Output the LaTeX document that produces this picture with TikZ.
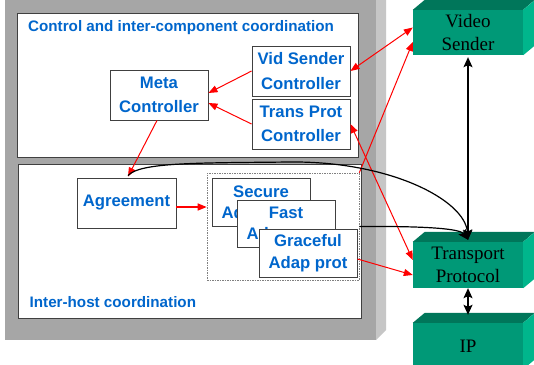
\documentclass[tikz,border=0pt]{standalone}
\usepackage{fontspec}
\setmainfont{Liberation Serif}
\newfontfamily\arialf{Liberation Sans}
\usetikzlibrary{arrows.meta,calc}
\definecolor{txtblue}{RGB}{0,102,204}
\definecolor{pgray}{RGB}{166,166,166}
\definecolor{plight}{RGB}{198,198,198}
\definecolor{gfront}{RGB}{0,153,119}
\definecolor{gtop}{RGB}{0,118,90}
\definecolor{gside}{RGB}{0,182,140}
\definecolor{bordc}{RGB}{64,64,64}
\begin{document}
\begin{tikzpicture}[x=1pt,y=-1pt,
  areabox/.style={draw=bordc, fill=white, line width=1pt},
  ctrlbox/.style={draw=bordc, fill=white, line width=0.9pt, minimum width=98pt, minimum height=50pt, inner sep=0pt, align=center, text=txtblue, font=\arialf\bfseries\fontsize{16.7}{24.5}\selectfont},
  adapbox/.style={ctrlbox, minimum height=48pt, font=\arialf\bfseries\fontsize{16.7}{21.5}\selectfont},
  arealbl/.style={anchor=base west, inner sep=0pt, text=txtblue, font=\arialf\bfseries\fontsize{15.2}{18}\selectfont},
  groupbox/.style={draw=gray, dash pattern=on 1.5pt off 1pt, line width=0.6pt, minimum width=152pt, minimum height=107pt, inner sep=0pt},
  gblock/.style={fill=gfront, minimum width=110pt, inner sep=0pt, align=center, font=\fontsize{19}{23.5}\selectfont},
  redarr/.style={draw=red, line width=1pt, -{Triangle[length=9pt,width=7pt]}},
  redboth/.style={redarr, {Triangle[length=9pt,width=7pt]}-{Triangle[length=9pt,width=7pt]}},
  blkarr/.style={draw=black, line width=1.3pt, -{Stealth[length=10pt,width=9pt,inset=2pt]}},
  blkboth/.style={blkarr, {Stealth[length=10pt,width=9pt,inset=2pt]}-{Stealth[length=10pt,width=9pt,inset=2pt]}}
]
\useasboundingbox (0,0) rectangle (534,364);
\clip (0,0) rectangle (534,364);
\fill[white] (0,0) rectangle (534,364);

% gray panel
\fill[pgray] (5,-20) rectangle (376,340);
\fill[plight] (376,-10) -- (386,-20) -- (386,330) -- (376,340) -- cycle;

% area boxes
\draw[areabox] (17,13) rectangle (358,157);
\draw[areabox] (18,164) rectangle (361,318);
\node[arealbl] (lblctrl) at (28,31.5) {Control and inter-component coordination};
\node[arealbl] (lblhost) at (29.5,307) {Inter-host coordination};

% control nodes
\node[ctrlbox] (meta) at (159,95) {Meta\\Controller};
\node[ctrlbox] (vsc) at (301,71) {Vid Sender\\Controller};
\node[ctrlbox] (tpc) at (301,124) {Trans Prot\\Controller};

% inter-host nodes
\node[ctrlbox, minimum width=99pt] (agr) at (126.5,203) {Agreement};
\node[groupbox] (grp) at (283,226.5) {};
\node[adapbox] (sec) at (261,202) {Secure\\Ad\hphantom{ap prot}};
\node[adapbox, minimum height=47pt] (fast) at (286,223.5) {Fast\\Ad\hphantom{ap prot}};
\node[adapbox] (grace) at (308,253) {Graceful\\Adap prot};

% green blocks
\node[gblock, minimum height=45pt] (vs) at (468,32.5) {Video\\Sender};
\node[gblock, minimum height=46pt] (tp) at (468,265) {Transport\\Protocol};
\node[gblock, minimum height=46pt] (ip) at (468,346) {IP};
\foreach \b in {vs,tp,ip}{
  \fill[gtop] (\b.north west) -- ++(12,-10) -- ++(110,0) -- (\b.north east) -- cycle;
  \fill[gside] (\b.north east) -- ++(12,-10) -- ($(\b.south east)+(12,-10)$) -- (\b.south east) -- cycle;
}

% red connectors
\draw[redarr] (vsc.west) -- ($(meta.east)+(0,-2)$);
\draw[redarr] (tpc.west) -- ($(meta.east)+(0,8)$);
\draw[redarr] ($(meta.south)+(-2,0)$) -- ($(agr.north)+(1.5,-1)$);
\draw[redarr, line width=1.4pt] ($(agr.east)+(0,4)$) coordinate (a4) -- (a4 -| grp.west);
\draw[redboth] (vsc.east) -- ($(vs.west)+(0,-5)$);
\draw[redboth] (tpc.east) -- ($(tp.west)+(0,-5)$);
\draw[redarr] (grp.north east) -- ($(vs.west)+(0,9.5)$);
\draw[redarr] ($(grace.east)+(0,6)$) -- ($(tp.west)+(0,10)$);

% black connectors
\draw[blkarr, line width=1.2pt] ($(agr.north)+(1.5,-2)$) .. controls (140,162) and (200,163) .. (290,162)
   .. controls (390,161) and (465,200) .. ($(tp.north)+(0,-2)$);
\draw[blkarr, line width=1.2pt] (grp.east) .. controls (430,226) and (460,229) .. ($(tp.north)+(0,-2)$);
\draw[blkboth] ($(vs.south)+(0,2)$) -- ($(tp.north)+(0,-2)$);
\draw[blkboth] (tp.south) -- ($(ip.north)+(0,-8)$);
\end{tikzpicture}
\end{document}
